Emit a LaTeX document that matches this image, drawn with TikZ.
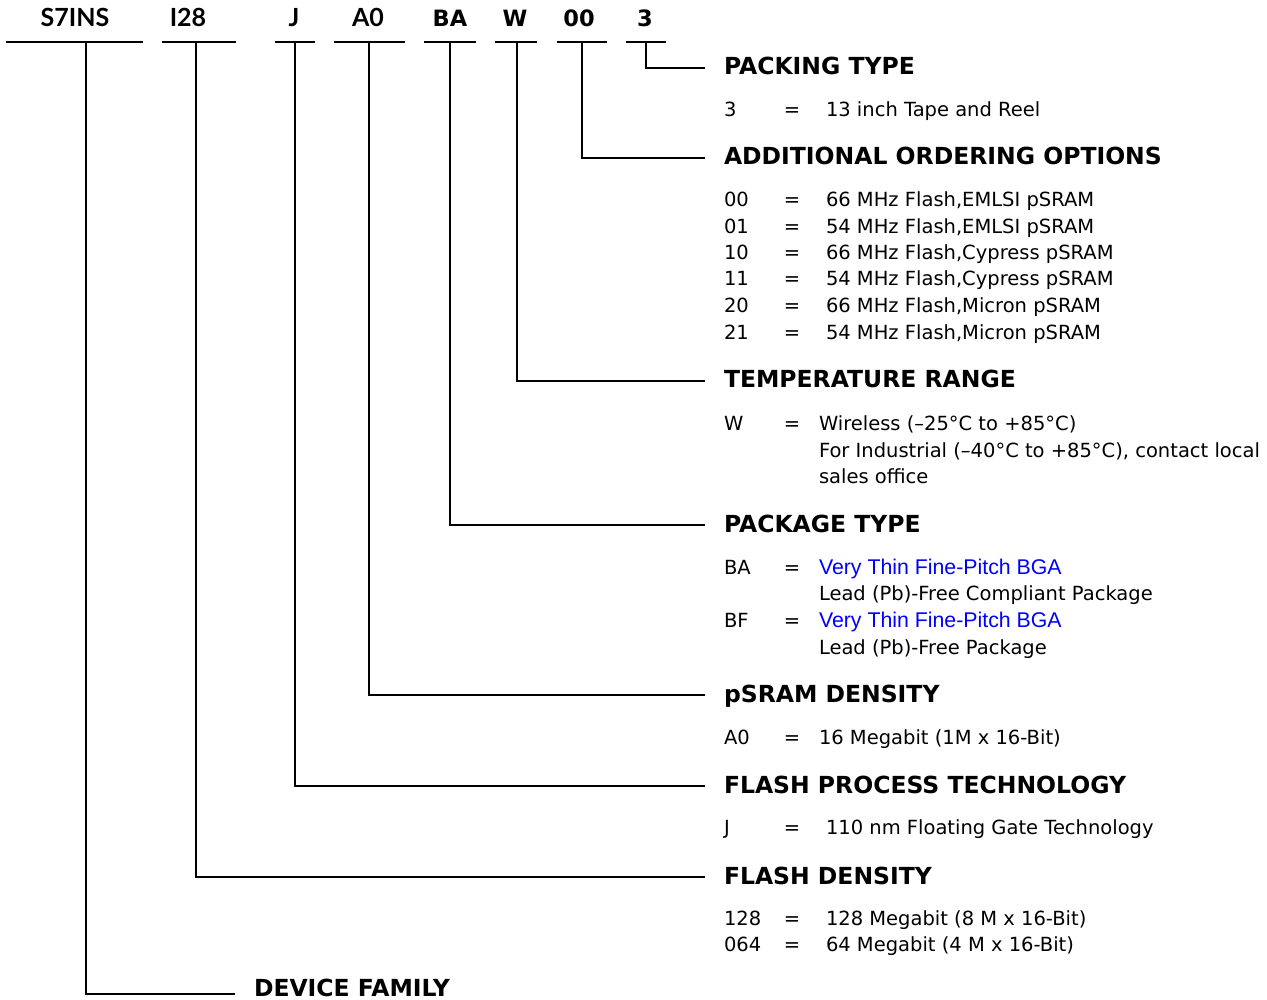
\documentclass[tikz,border=0pt]{standalone}
\usepackage{fontspec}
\setmainfont{DejaVu Sans}
\newfontfamily\arialf{Liberation Sans}
\newfontfamily\gillf{Lato}
\definecolor{linkblue}{RGB}{0,0,255}
\begin{document}
\begin{tikzpicture}[x=1pt,y=-1pt,line width=2pt,
  code/.style={font=\fontsize{22.5}{22.5}\selectfont\bfseries,anchor=base,inner sep=0pt},
  gcode/.style={font=\gillf\fontsize{25}{25}\selectfont\bfseries,anchor=base,inner sep=0pt},
  head/.style={font=\fontsize{23.5}{23.5}\selectfont\bfseries,anchor=base west,inner sep=0pt},
  body/.style={font=\fontsize{19.5}{19.5}\selectfont,anchor=base west,inner sep=0pt},
  eqs/.style={font=\fontsize{19.5}{19.5}\selectfont,anchor=base,inner sep=0pt},
  blue/.style={body,font=\arialf\fontsize{21.3}{21.3}\selectfont,text=linkblue},
]
\useasboundingbox (0,0) rectangle (1267,1000);
% code labels
\node[gcode] (cS) at (75,27) {S7INS};
\node[gcode] (cI) at (188,27) {I28};
\node[gcode] (cJ) at (294,27) {J};
\node[gcode] (cA) at (368,27) {A0};
\node[code] (cB) at (450,27) {BA};
\node[code] (cW) at (515,27) {W};
\node[code] (c0) at (579,27) {00};
\node[code] (c3) at (645,27) {3};
% underlines
\draw (6,42) -- (143,42);
\draw (162,42) -- (236,42);
\draw (275,42) -- (315,42);
\draw (334,42) -- (405,42);
\draw (424,42) -- (476,42);
\draw (495,42) -- (537,42);
\draw (557,42) -- (607,42);
\draw (626,42) -- (666,42);
\coordinate (uS) at (86,42);
\coordinate (uI) at (196,42);
\coordinate (uJ) at (295,42);
\coordinate (uA) at (369,42);
\coordinate (uB) at (450,42);
\coordinate (uW) at (517,42);
\coordinate (u0) at (582,42);
\coordinate (u3) at (646,42);
% line ends
\coordinate (e3) at (705,68);
\coordinate (e0) at (705,158);
\coordinate (eW) at (705,381);
\coordinate (eB) at (705,525);
\coordinate (eA) at (705,695);
\coordinate (eJ) at (705,786);
\coordinate (eI) at (705,877);
\coordinate (eS) at (235,994);
\draw (u3) |- (e3);
\draw (u0) |- (e0);
\draw (uW) |- (eW);
\draw (uB) |- (eB);
\draw (uA) |- (eA);
\draw (uJ) |- (eJ);
\draw (uI) |- (eI);
\draw (uS) |- (eS);
% headings
\node[head] (h3) at (723,75) {PACKING TYPE};
\node[head] (h0) at (723,165) {ADDITIONAL ORDERING OPTIONS};
\node[head] (hW) at (723,388) {TEMPERATURE RANGE};
\node[head] (hB) at (723,532) {PACKAGE TYPE};
\node[head] (hA) at (723,702) {pSRAM DENSITY};
\node[head] (hJ) at (723,793) {FLASH PROCESS TECHNOLOGY};
\node[head] (hI) at (723,884) {FLASH DENSITY};
\node[head] (hS) at (253,996) {DEVICE FAMILY};
% packing
\node[body] (k3a) at (723,117) {3};
\node[eqs] (q3a) at (792,117) {=};
\node[body] (d3a) at (825,117) {13 inch Tape and Reel};
% additional
\node[body] (k0a) at (723,207) {00};
\node[eqs] (q0a) at (792,207) {=};
\node[body] (d0a) at (825,207) {66 MHz Flash,EMLSI pSRAM};
\node[body] (k0b) at (723,234) {01};
\node[eqs] (q0b) at (792,234) {=};
\node[body] (d0b) at (825,234) {54 MHz Flash,EMLSI pSRAM};
\node[body] (k0c) at (723,260) {10};
\node[eqs] (q0c) at (792,260) {=};
\node[body] (d0c) at (825,260) {66 MHz Flash,Cypress pSRAM};
\node[body] (k0d) at (723,286) {11};
\node[eqs] (q0d) at (792,286) {=};
\node[body] (d0d) at (825,286) {54 MHz Flash,Cypress pSRAM};
\node[body] (k0e) at (723,313) {20};
\node[eqs] (q0e) at (792,313) {=};
\node[body] (d0e) at (825,313) {66 MHz Flash,Micron pSRAM};
\node[body] (k0f) at (723,340) {21};
\node[eqs] (q0f) at (792,340) {=};
\node[body] (d0f) at (825,340) {54 MHz Flash,Micron pSRAM};
% temperature
\node[body] (kWa) at (723,430) {W};
\node[eqs] (qWa) at (792,430) {=};
\node[body] (dWa) at (818,430) {Wireless (–25°C to +85°C)};
\node[body] (dWb) at (818,457) {For Industrial (–40°C to +85°C), contact local};
\node[body] (dWc) at (818,483) {sales office};
% package
\node[body] (kBa) at (723,574) {BA};
\node[eqs] (qBa) at (792,574) {=};
\node[blue] (dBa) at (818,574) {Very Thin Fine-Pitch BGA};
\node[body] (dBb) at (818,600) {Lead (Pb)-Free Compliant Package};
\node[body] (kBc) at (723,627) {BF};
\node[eqs] (qBc) at (792,627) {=};
\node[blue] (dBc) at (818,627) {Very Thin Fine-Pitch BGA};
\node[body] (dBd) at (818,654) {Lead (Pb)-Free Package};
% psram
\node[body] (kAa) at (723,744) {A0};
\node[eqs] (qAa) at (792,744) {=};
\node[body] (dAa) at (818,744) {16 Megabit (1M x 16-Bit)};
% flash process
\node[body] (kJa) at (723,834) {J};
\node[eqs] (qJa) at (792,834) {=};
\node[body] (dJa) at (825,834) {110 nm Floating Gate Technology};
% flash density
\node[body] (kIa) at (723,925) {128};
\node[eqs] (qIa) at (792,925) {=};
\node[body] (dIa) at (825,925) {128 Megabit (8 M x 16-Bit)};
\node[body] (kIb) at (723,951) {064};
\node[eqs] (qIb) at (792,951) {=};
\node[body] (dIb) at (825,951) {64 Megabit (4 M x 16-Bit)};
\end{tikzpicture}
\end{document}
